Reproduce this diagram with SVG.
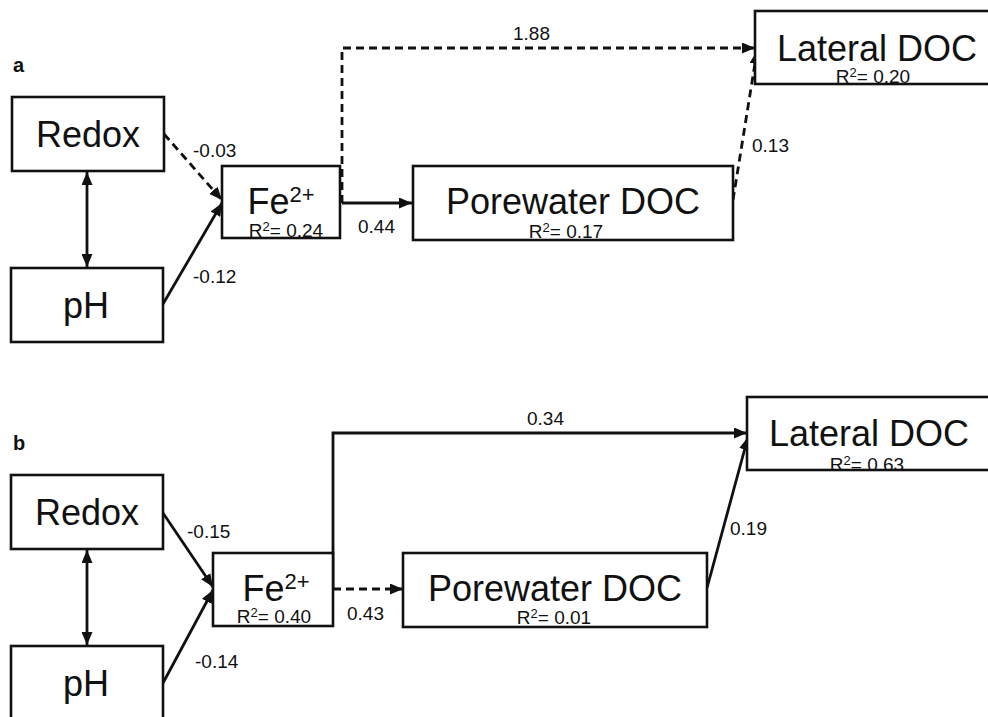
<svg xmlns="http://www.w3.org/2000/svg" width="988" height="717" viewBox="0 0 988 717">
  <style>
    .box { fill: #fff; stroke: #111; stroke-width: 2.6; }
    .big { font-family: "Liberation Sans", Arial, sans-serif; font-size: 36px; fill: #111; text-anchor: middle; }
    .r2 { font-family: "Liberation Sans", Arial, sans-serif; font-size: 19px; fill: #111; text-anchor: middle; }
    .lbl { font-family: "Liberation Sans", Arial, sans-serif; font-size: 19px; fill: #111; }
    .panel { font-family: "Liberation Sans", Arial, sans-serif; font-size: 20px; font-weight: bold; fill: #111; }
    .edge { fill: none; stroke: #111; stroke-width: 2.8; }
    .dash { stroke-dasharray: 8 5; }
  </style>
  <defs>
    <marker id="arrow" viewBox="0 0 13 11" refX="13" refY="5.5" markerWidth="13" markerHeight="11" markerUnits="userSpaceOnUse" orient="auto-start-reverse">
      <path d="M0,0 L13,5.5 L0,11 z" fill="#111" stroke="none"/>
    </marker>
  </defs>

  <rect width="988" height="717" fill="#fff"/>

  <!-- panel a -->
  <text class="panel" x="13" y="72">a</text>

  <g id="a-connectors">
    <line class="edge" x1="87" y1="172" x2="87" y2="267" marker-start="url(#arrow)" marker-end="url(#arrow)"/>
    <line class="edge dash" x1="164" y1="134" x2="222" y2="200" marker-end="url(#arrow)"/>
    <line class="edge" x1="163" y1="304" x2="222" y2="203" marker-end="url(#arrow)"/>
    <line class="edge" x1="342" y1="203" x2="412" y2="203" marker-end="url(#arrow)"/>
    <polyline class="edge dash" points="342,203 342,48 755,48" marker-end="url(#arrow)"/>
    <line class="edge dash" x1="733" y1="200" x2="757" y2="51" marker-end="url(#arrow)"/>
    <text class="lbl" x="193" y="157">-0.03</text>
    <text class="lbl" x="193" y="283">-0.12</text>
    <text class="lbl" x="358" y="233">0.44</text>
    <text class="lbl" x="513" y="40">1.88</text>
    <text class="lbl" x="752" y="152">0.13</text>
  </g>

  <g id="a-redox">
    <rect class="box" x="12" y="97" width="152" height="74"/>
    <text class="big" x="88" y="147">Redox</text>
  </g>
  <g id="a-ph">
    <rect class="box" x="11" y="268" width="152" height="74"/>
    <text class="big" x="86" y="318">pH</text>
  </g>
  <g id="a-fe">
    <rect class="box" x="222" y="166" width="118" height="72"/>
    <text class="big" x="281" y="214">Fe<tspan font-size="22" dy="-12">2+</tspan></text>
    <text class="r2" x="286" y="237">R<tspan font-size="13" dy="-6">2</tspan><tspan dy="6">= 0.24</tspan></text>
  </g>
  <g id="a-porewater">
    <rect class="box" x="413" y="166" width="320" height="74"/>
    <text class="big" x="573" y="214">Porewater DOC</text>
    <text class="r2" x="566" y="238">R<tspan font-size="13" dy="-6">2</tspan><tspan dy="6">= 0.17</tspan></text>
  </g>
  <g id="a-lateral">
    <rect class="box" x="755" y="11" width="240" height="73"/>
    <text class="big" x="877" y="61">Lateral DOC</text>
    <text class="r2" x="873" y="83">R<tspan font-size="13" dy="-6">2</tspan><tspan dy="6">= 0.20</tspan></text>
  </g>

  <!-- panel b -->
  <text class="panel" x="13" y="450">b</text>

  <g id="b-connectors">
    <line class="edge" x1="87" y1="550" x2="87" y2="645" marker-start="url(#arrow)" marker-end="url(#arrow)"/>
    <line class="edge" x1="163" y1="513" x2="213" y2="587" marker-end="url(#arrow)"/>
    <line class="edge" x1="163" y1="683" x2="213" y2="590" marker-end="url(#arrow)"/>
    <line class="edge dash" x1="333" y1="589" x2="403" y2="589" marker-end="url(#arrow)"/>
    <polyline class="edge" points="333,589 333,433 747,433" marker-end="url(#arrow)"/>
    <line class="edge" x1="707" y1="588" x2="748" y2="437" marker-end="url(#arrow)"/>
    <text class="lbl" x="187" y="538">-0.15</text>
    <text class="lbl" x="195" y="668">-0.14</text>
    <text class="lbl" x="347" y="620">0.43</text>
    <text class="lbl" x="527" y="425">0.34</text>
    <text class="lbl" x="730" y="535">0.19</text>
  </g>

  <g id="b-redox">
    <rect class="box" x="11" y="475" width="152" height="74"/>
    <text class="big" x="87" y="525">Redox</text>
  </g>
  <g id="b-ph">
    <rect class="box" x="11" y="646" width="152" height="74"/>
    <text class="big" x="86" y="696">pH</text>
  </g>
  <g id="b-fe">
    <rect class="box" x="213" y="553" width="120" height="73"/>
    <text class="big" x="276" y="601">Fe<tspan font-size="22" dy="-12">2+</tspan></text>
    <text class="r2" x="274" y="623">R<tspan font-size="13" dy="-6">2</tspan><tspan dy="6">= 0.40</tspan></text>
  </g>
  <g id="b-porewater">
    <rect class="box" x="403" y="553" width="304" height="74"/>
    <text class="big" x="555" y="601">Porewater DOC</text>
    <text class="r2" x="554" y="624">R<tspan font-size="13" dy="-6">2</tspan><tspan dy="6">= 0.01</tspan></text>
  </g>
  <g id="b-lateral">
    <rect class="box" x="747" y="397" width="250" height="73"/>
    <text class="big" x="869" y="446">Lateral DOC</text>
    <text class="r2" x="867" y="471">R<tspan font-size="13" dy="-6">2</tspan><tspan dy="6">= 0.63</tspan></text>
  </g>
</svg>
